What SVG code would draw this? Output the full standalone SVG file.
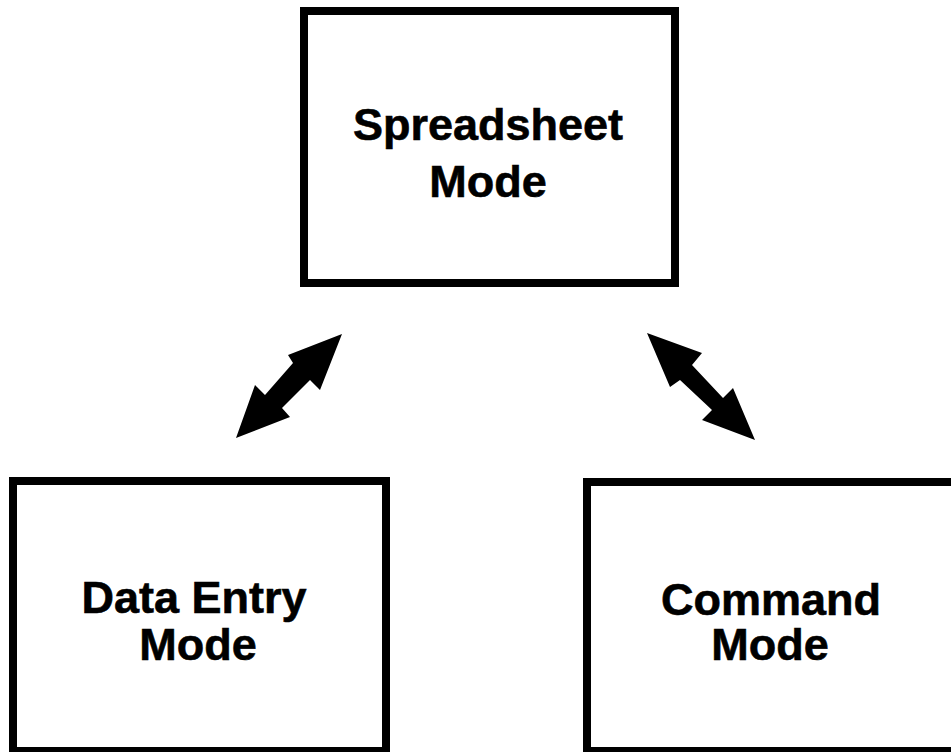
<svg xmlns="http://www.w3.org/2000/svg" width="951" height="752" viewBox="0 0 951 752">
  <style>
    .box { fill: #ffffff; stroke: #000000; stroke-width: 8; }
    .label { font-family: "Liberation Sans", Arial, Helvetica, sans-serif; font-weight: bold; font-size: 45px; fill: #000000; stroke: #000000; stroke-width: 0.6; text-anchor: middle; }
    .arrow { fill: #000000; }
  </style>
  <rect width="951" height="752" fill="#ffffff"/>

  <g id="spreadsheet-mode">
    <rect class="box" x="304" y="11" width="371" height="272"/>
    <text class="label" x="488" y="140">Spreadsheet</text>
    <text class="label" x="488" y="197">Mode</text>
  </g>

  <g id="data-entry-mode">
    <rect class="box" x="13" y="481" width="373" height="270"/>
    <text class="label" x="194" y="613">Data Entry</text>
    <text class="label" x="198" y="660">Mode</text>
  </g>

  <g id="command-mode">
    <rect class="box" x="587" y="482" width="400" height="269"/>
    <text class="label" x="771" y="615">Command</text>
    <text class="label" x="770" y="660">Mode</text>
  </g>

  <g id="connectors">
    <!-- double-headed arrow: Spreadsheet <-> Data Entry -->
    <polygon class="arrow" points="342,334 288,355 293,363 265,395 255,385 236,438 290,417 282,408 310,380 320,390"/>
    <!-- double-headed arrow: Spreadsheet <-> Command -->
    <polygon class="arrow" points="647,333 702,353 692,365 723,398 733,388 755,440 702,420 712,410 680,380 670,387"/>
  </g>
</svg>
